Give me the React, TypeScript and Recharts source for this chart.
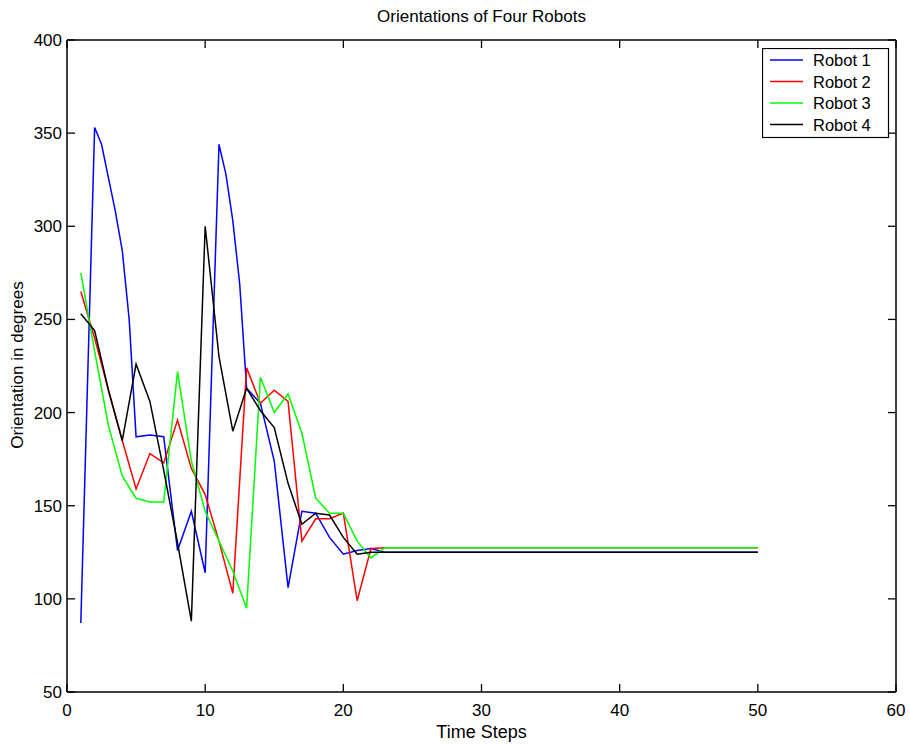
import React from "react";
import { LineChart, Line, XAxis, YAxis, Legend, Label } from "recharts";

const timeSteps = [1, 2, 2.5, 3, 3.5, 4, 4.5, 5, 6, 7, 8, 9, 10, 11, 11.5, 12, 12.5, 13, 14, 15, 16, 17, 18, 19, 20, 21, 22, 23, 50];
const robot1 = [87, 353, 344, 326, 308, 287, 250, 187, 188, 187, 126, 147, 114, 344, 328, 303, 269, 213, 205, 174, 106, 147, 146, 133, 124, 126, 127, 125, 125];
const robot2 = [265, 240, null, 212, null, 185, null, 159, 178, 173, 196, 170, 156, 131, null, 103, null, 224, 205, 212, 206, 131, 143, 143, 146, 99, 127, 127.5, 127.5];
const robot3 = [275, 233, null, 193, null, 166, null, 154, 152, 152, 222, 174, 147, 131, null, 115, null, 95, 219, 200, 210, 189, 154, 146, 146, 131, 122, 127.5, 127.5];
const robot4 = [253, 244, null, 212, null, 185, null, 226, 206, 169, 130, 88, 300, 230, null, 190, null, 213, 201, 192, 162, 140, 146, 145, 133, 124, 125, 125, 125];

const xTicks = [0, 10, 20, 30, 40, 50, 60];
const yTicks = [50, 100, 150, 200, 250, 300, 350, 400];
const seriesNames = ["Robot 1", "Robot 2", "Robot 3", "Robot 4"];
const seriesColors = ["#0000ff", "#ff0000", "#00ff00", "#000000"];

const data = timeSteps.map((t, i) => ({
  t,
  r1: robot1[i],
  r2: robot2[i],
  r3: robot3[i],
  r4: robot4[i],
}));

const FONT = "'Liberation Sans', Arial, Helvetica, sans-serif";
const TICK = 8;
const W = 910;
const H = 747;
const M = { top: 39, right: 13, bottom: 25, left: 0 };
const XAH = 30;
const YAW = 67;
const PL = M.left + YAW;
const PR = W - M.right - 1;
const PT = M.top + 1;
const PB = H - M.bottom - XAH;

const BottomTick = (p: any) => (
  <g>
    <line x1={p.x} y1={PB} x2={p.x} y2={PB - TICK} stroke="#000" strokeWidth={1.3} />
    <text x={p.x} y={PB + 24} textAnchor="middle" fontFamily={FONT} fontSize={17} fill="#000">
      {p.payload.value}
    </text>
  </g>
);
const TopTick = (p: any) => (
  <line x1={p.x} y1={PT} x2={p.x} y2={PT + TICK} stroke="#000" strokeWidth={1.3} />
);
const LeftTick = (p: any) => (
  <g>
    <line x1={PL} y1={p.y} x2={PL + TICK} y2={p.y} stroke="#000" strokeWidth={1.3} />
    <text x={PL - 5} y={p.y + 6} textAnchor="end" fontFamily={FONT} fontSize={17} fill="#000">
      {p.payload.value}
    </text>
  </g>
);
const RightTick = (p: any) => (
  <line x1={PR} y1={p.y} x2={PR - TICK} y2={p.y} stroke="#000" strokeWidth={1.3} />
);

const LegendBox = () => (
  <svg width={128} height={91} style={{ display: "block" }}>
    <rect x={0.5} y={0.5} width={126} height={89} fill="#fff" stroke="#000" strokeWidth={1.2} />
    {seriesNames.map((n, i) => (
      <g key={n}>
        <line x1={8} x2={41} y1={12 + i * 21.5} y2={12 + i * 21.5} stroke={seriesColors[i]} strokeWidth={1.5} />
        <text x={51} y={12 + i * 21.5 + 6} fontFamily={FONT} fontSize={16.5} fill="#000">
          {n}
        </text>
      </g>
    ))}
  </svg>
);

export default function App() {
  return (
    <div style={{ position: "absolute", left: 0, top: 0, background: "#fff" }}>
      <LineChart width={W} height={H} data={data} margin={M}>
        <XAxis
          dataKey="t"
          type="number"
          domain={[0, 60]}
          ticks={xTicks}
          allowDataOverflow
          height={XAH}
          tickSize={0}
          tickMargin={0}
          tickLine={false}
          axisLine={{ stroke: "#000", strokeWidth: 1.5 }}
          tick={BottomTick}
        >
          <Label
            content={() => (
              <text x={(PL + PR) / 2} y={PB + 46} textAnchor="middle" fontFamily={FONT} fontSize={18} fill="#000">
                Time Steps
              </text>
            )}
          />
        </XAxis>
        <XAxis
          xAxisId="top"
          dataKey="t"
          orientation="top"
          type="number"
          domain={[0, 60]}
          ticks={xTicks}
          allowDataOverflow
          height={1}
          tickSize={0}
          tickMargin={0}
          tickLine={false}
          axisLine={{ stroke: "#000", strokeWidth: 1.5 }}
          tick={TopTick}
        >
          <Label
            content={() => (
              <text x={(PL + PR) / 2} y={22} textAnchor="middle" fontFamily={FONT} fontSize={17} fill="#000">
                Orientations of Four Robots
              </text>
            )}
          />
        </XAxis>
        <YAxis
          type="number"
          domain={[50, 400]}
          ticks={yTicks}
          allowDataOverflow
          width={YAW}
          tickSize={0}
          tickMargin={0}
          tickLine={false}
          axisLine={{ stroke: "#000", strokeWidth: 1.5 }}
          tick={LeftTick}
        >
          <Label
            content={() => {
              const cy = 365;
              return (
                <text
                  x={23}
                  y={cy}
                  transform={`rotate(-90 23 ${cy})`}
                  textAnchor="middle"
                  fontFamily={FONT}
                  fontSize={17}
                  fill="#000"
                >
                  Orientation in degrees
                </text>
              );
            }}
          />
        </YAxis>
        <YAxis
          yAxisId="right"
          orientation="right"
          type="number"
          domain={[50, 400]}
          ticks={yTicks}
          allowDataOverflow
          width={1}
          tickSize={0}
          tickMargin={0}
          tickLine={false}
          axisLine={{ stroke: "#000", strokeWidth: 1.5 }}
          tick={RightTick}
        />
        <Legend
          layout="vertical"
          align="center"
          verticalAlign="middle"
          wrapperStyle={{ position: "absolute", left: 762, top: 48, width: 128, height: 91 }}
          content={() => <LegendBox />}
        />
        <Line dataKey="r1" name="Robot 1" stroke="#0000ff" strokeWidth={1.5} dot={false} connectNulls isAnimationActive={false} />
        <Line dataKey="r2" name="Robot 2" stroke="#ff0000" strokeWidth={1.5} dot={false} connectNulls isAnimationActive={false} />
        <Line dataKey="r3" name="Robot 3" stroke="#00ff00" strokeWidth={1.5} dot={false} connectNulls isAnimationActive={false} />
        <Line dataKey="r4" name="Robot 4" stroke="#000000" strokeWidth={1.5} dot={false} connectNulls isAnimationActive={false} />
      </LineChart>
    </div>
  );
}
